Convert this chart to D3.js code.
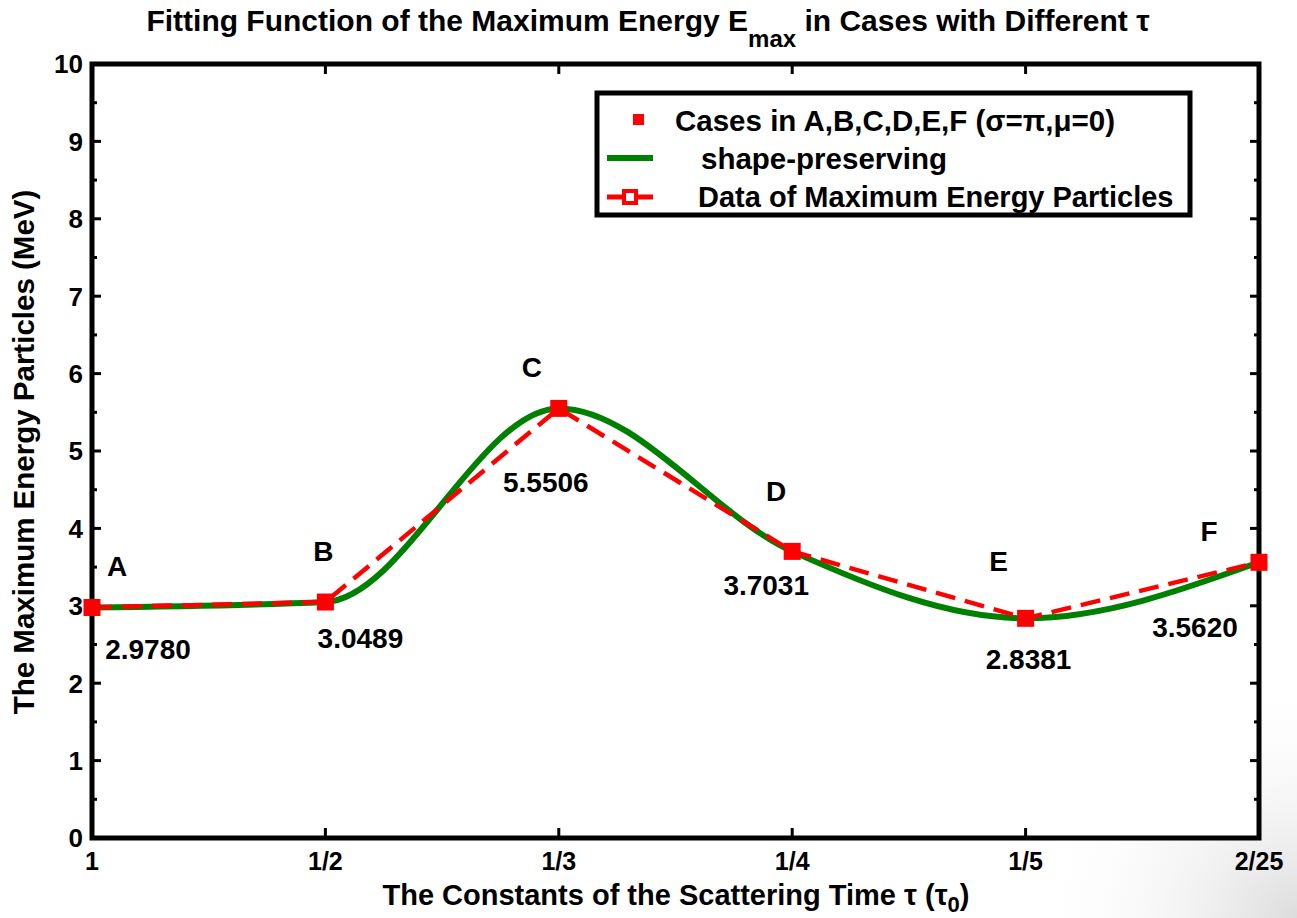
<!DOCTYPE html>
<html>
<head>
<meta charset="utf-8">
<script src="https://cdn.jsdelivr.net/npm/d3@7"></script>
<style>
  body { margin: 0; background: #fff; }
  svg { font-family: "Liberation Sans", Arial, sans-serif; font-weight: bold; }
</style>
</head>
<body>
<svg id="chart" width="1297" height="918"></svg>
<script>
// data
var cases = ["1", "1/2", "1/3", "1/4", "1/5", "2/25"];
var caseNames = ["A", "B", "C", "D", "E", "F"];
var emax = [2.9780, 3.0489, 5.5506, 3.7031, 2.8381, 3.5620];
var yTicks = [0, 1, 2, 3, 4, 5, 6, 7, 8, 9, 10];

// label offsets in px (layout only)
var nameOffsets = [[25, -42], [-2, -51], [-27, -41], [-16, -60], [-27, -57], [-50, -31]];
var valueOffsets = [[56, 41], [35, 36], [-13, 74], [-26, 34], [3, 41], [-64, 65]];

function drawChart() {
  var svg = d3.select("#chart");
  var pLeft = 92, pRight = 1259, pTop = 64, pBottom = 838;

  // faint background shading bottom right
  var defs = svg.append("defs");
  var grad = defs.append("radialGradient").attr("id", "glow")
      .attr("cx", "100%").attr("cy", "100%").attr("r", "65%");
  grad.append("stop").attr("offset", "0%").attr("stop-color", "#dcdcdc");
  grad.append("stop").attr("offset", "100%").attr("stop-color", "#ffffff").attr("stop-opacity", 0);
  svg.append("rect").attr("x", 880).attr("y", 540).attr("width", 417).attr("height", 378)
      .attr("fill", "url(#glow)");

  var x = d3.scalePoint().domain(cases).range([pLeft, pRight]);
  var y = d3.scaleLinear().domain([0, 10]).range([pBottom, pTop]);

  var g = svg.append("g");

  // axes box
  g.append("rect")
      .attr("x", pLeft).attr("y", pTop)
      .attr("width", pRight - pLeft).attr("height", pBottom - pTop)
      .attr("fill", "#fff").attr("stroke", "#000").attr("stroke-width", 5);

  // x ticks (inside, bottom and top)
  cases.forEach(function(c, i) {
    if (i == 0 || i == cases.length - 1) return;
    g.append("line").attr("x1", x(c)).attr("x2", x(c)).attr("y1", pBottom).attr("y2", pBottom - 10)
        .attr("stroke", "#000").attr("stroke-width", 3);
    g.append("line").attr("x1", x(c)).attr("x2", x(c)).attr("y1", pTop).attr("y2", pTop + 10)
        .attr("stroke", "#000").attr("stroke-width", 3);
  });

  // y ticks major + minor
  yTicks.forEach(function(t) {
    g.append("line").attr("x1", pLeft).attr("x2", pLeft + 9).attr("y1", y(t)).attr("y2", y(t))
        .attr("stroke", "#000").attr("stroke-width", 3);
    g.append("line").attr("x1", pRight).attr("x2", pRight - 9).attr("y1", y(t)).attr("y2", y(t))
        .attr("stroke", "#000").attr("stroke-width", 3);
    if (t < 10) {
      g.append("line").attr("x1", pLeft).attr("x2", pLeft + 5).attr("y1", y(t + 0.5)).attr("y2", y(t + 0.5))
          .attr("stroke", "#000").attr("stroke-width", 3);
      g.append("line").attr("x1", pRight).attr("x2", pRight - 5).attr("y1", y(t + 0.5)).attr("y2", y(t + 0.5))
          .attr("stroke", "#000").attr("stroke-width", 3);
    }
  });

  // tick labels
  g.selectAll(".ylab").data(yTicks).enter().append("text")
      .attr("x", pLeft - 9).attr("y", function(d) { return y(d); })
      .attr("dy", "0.36em").attr("text-anchor", "end")
      .style("font-size", "26px").text(function(d) { return d; });

  g.selectAll(".xlab").data(cases).enter().append("text")
      .attr("x", function(d) { return x(d); }).attr("y", pBottom + 32)
      .attr("text-anchor", "middle")
      .style("font-size", "25px").text(function(d) { return d; });

  // series
  var pts = cases.map(function(c, i) { return [x(c), y(emax[i])]; });

  g.append("path")
      .attr("d", d3.line().curve(d3.curveMonotoneX)(pts))
      .attr("fill", "none").attr("stroke", "#008000").attr("stroke-width", 6);

  g.append("path")
      .attr("d", d3.line()(pts))
      .attr("fill", "none").attr("stroke", "#ff0000").attr("stroke-width", 4.5)
      .attr("stroke-dasharray", "20,10");

  g.selectAll(".mk").data(pts).enter().append("rect")
      .attr("x", function(d) { return d[0] - 8.5; }).attr("y", function(d) { return d[1] - 8.5; })
      .attr("width", 17).attr("height", 17).attr("fill", "#ff0000");

  // point labels
  g.selectAll(".nm").data(pts).enter().append("text")
      .attr("x", function(d, i) { return d[0] + nameOffsets[i][0]; })
      .attr("y", function(d, i) { return d[1] + nameOffsets[i][1]; })
      .attr("dy", "0.36em").attr("text-anchor", "middle")
      .style("font-size", "28px").text(function(d, i) { return caseNames[i]; });

  g.selectAll(".val").data(pts).enter().append("text")
      .attr("x", function(d, i) { return d[0] + valueOffsets[i][0]; })
      .attr("y", function(d, i) { return d[1] + valueOffsets[i][1]; })
      .attr("dy", "0.36em").attr("text-anchor", "middle")
      .style("font-size", "28px").text(function(d, i) { return emax[i].toFixed(4); });

  // legend
  var lg = svg.append("g").attr("transform", "translate(597,93)");
  lg.append("rect").attr("width", 593).attr("height", 122)
      .attr("fill", "#fff").attr("stroke", "#000").attr("stroke-width", 5);
  lg.append("rect").attr("x", 36).attr("y", 21).attr("width", 11).attr("height", 11).attr("fill", "#ff0000");
  lg.append("text").attr("x", 78).attr("y", 27).attr("dy", "0.36em")
      .style("font-size", "29.5px").text("Cases in A,B,C,D,E,F (\u03c3=\u03c0,\u03bc=0)");
  lg.append("line").attr("x1", 10).attr("x2", 56).attr("y1", 65).attr("y2", 65)
      .attr("stroke", "#008000").attr("stroke-width", 6);
  lg.append("text").attr("x", 104).attr("y", 65).attr("dy", "0.36em")
      .style("font-size", "29.5px").text("shape-preserving");
  lg.append("line").attr("x1", 10).attr("x2", 56).attr("y1", 104).attr("y2", 104)
      .attr("stroke", "#ff0000").attr("stroke-width", 5);
  lg.append("rect").attr("x", 27).attr("y", 98).attr("width", 12).attr("height", 12)
      .attr("fill", "#fff").attr("stroke", "#ff0000").attr("stroke-width", 4);
  lg.append("text").attr("x", 101).attr("y", 104).attr("dy", "0.36em")
      .style("font-size", "29px").text("Data of Maximum Energy Particles");

  // title
  var title = svg.append("text").attr("x", 648).attr("y", 31).attr("text-anchor", "middle")
      .style("font-size", "30px");
  title.append("tspan").text("Fitting Function of the Maximum Energy E");
  title.append("tspan").attr("dy", 16).style("font-size", "24px").text("max");
  title.append("tspan").attr("dy", -16).text(" in Cases with Different \u03c4");

  // axis titles
  var xt = svg.append("text").attr("x", 676).attr("y", 905).attr("text-anchor", "middle")
      .style("font-size", "29px");
  xt.append("tspan").text("The Constants of the Scattering Time \u03c4 (\u03c4");
  xt.append("tspan").attr("dy", 7).style("font-size", "22px").text("0");
  xt.append("tspan").attr("dy", -7).text(")");

  svg.append("text").attr("transform", "translate(34,452) rotate(-90)")
      .attr("text-anchor", "middle").style("font-size", "29.5px")
      .text("The Maximum Energy Particles (MeV)");
}

drawChart();
</script>
</body>
</html>
